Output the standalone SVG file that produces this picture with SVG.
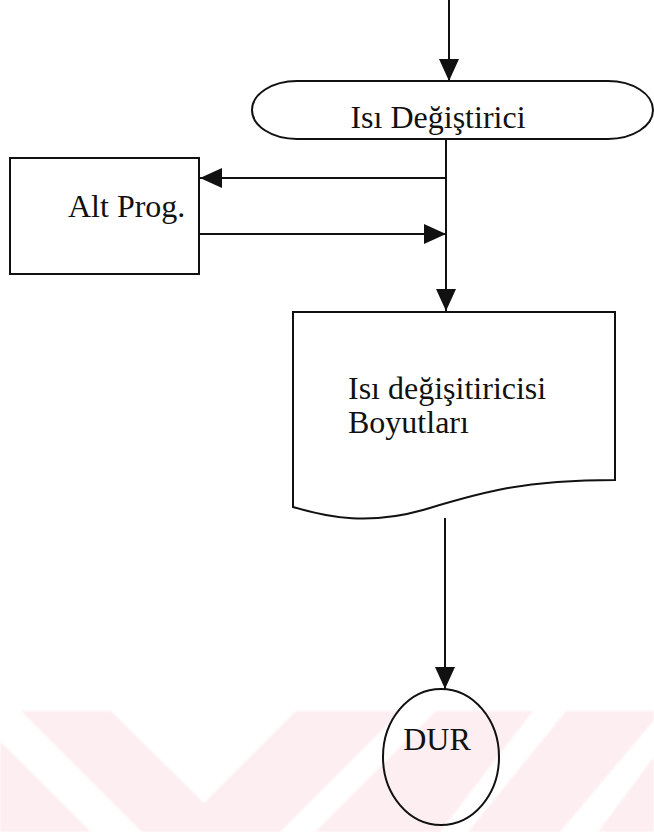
<svg xmlns="http://www.w3.org/2000/svg" width="654" height="832" viewBox="0 0 654 832">
  <defs>
    <marker id="arrow" markerUnits="userSpaceOnUse" markerWidth="22" markerHeight="20" refX="22" refY="10" orient="auto">
      <path d="M0,0 L22,10 L0,20 Z" fill="#111"/>
    </marker>
    <filter id="soft" x="-5%" y="-5%" width="110%" height="110%">
      <feGaussianBlur stdDeviation="1"/>
    </filter>
  </defs>
  <style>
    .shape { fill: none; stroke: #111; stroke-width: 2; }
    .link { fill: none; stroke: #111; stroke-width: 2; marker-end: url(#arrow); }
    .label { font-family: "Liberation Serif", "Times New Roman", serif; font-size: 32px; fill: #111; }
  </style>

  <rect width="654" height="832" fill="#fff"/>

  <!-- background band with diagonal cut-outs -->
  <g id="watermark" filter="url(#soft)">
    <rect x="0" y="711" width="654" height="121" fill="#fdeef1"/>
    <g fill="#fff">
      <polygon points="-30,711 21,711 142,832 91,832"/>
      <polygon points="111,711 296,711 204,803"/>
      <polygon points="401,711 436,711 315,832 280,832"/>
      <polygon points="533,711 566,711 468,832 440,832"/>
      <polygon points="560,832 654,720 654,757 598,832"/>
    </g>
  </g>

  <g id="connectors">
    <path class="link" d="M449,0 V81"/>
    <path class="link" d="M446,139 V311"/>
    <path class="link" d="M446,178 H200"/>
    <path class="link" d="M199,234 H446"/>
    <path class="link" d="M445,518 V689"/>
  </g>

  <g id="heat-exchanger">
    <rect class="shape" x="252" y="81" width="401" height="58" rx="45" ry="29"/>
    <text class="label" x="438" y="128" text-anchor="middle">Isı Değiştirici</text>
  </g>

  <g id="subprogram">
    <rect class="shape" x="10" y="158" width="189" height="116"/>
    <text class="label" x="68" y="217">Alt Prog.</text>
  </g>

  <g id="dimensions">
    <path class="shape" d="M293,312 H615 V480 C520,480 480,493 423,510 C370,525 330,518 293,507 Z"/>
    <text class="label" x="348" y="399">Isı değişitiricisi</text>
    <text class="label" x="348" y="433">Boyutları</text>
  </g>

  <g id="stop">
    <ellipse class="shape" cx="441" cy="757" rx="58" ry="68"/>
    <text class="label" x="437" y="750" text-anchor="middle">DUR</text>
  </g>
</svg>
